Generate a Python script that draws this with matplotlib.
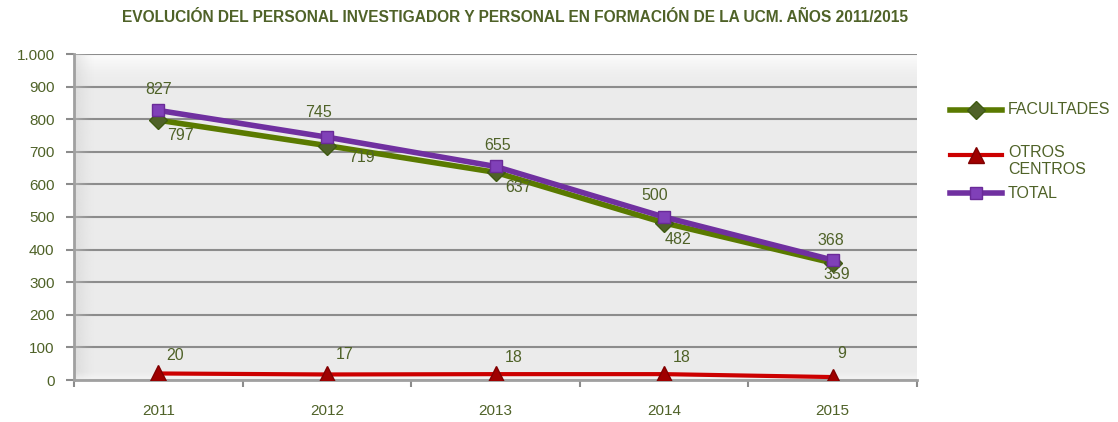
import matplotlib.pyplot as plt
import numpy as np
from matplotlib.lines import Line2D

years = ["2011", "2012", "2013", "2014", "2015"]
facultades = [797, 719, 637, 482, 359]
otros = [20, 17, 18, 18, 9]
total = [827, 745, 655, 500, 368]
yticks = [0, 100, 200, 300, 400, 500, 600, 700, 800, 900, 1000]
ytick_labels = ["0", "100", "200", "300", "400", "500", "600", "700", "800", "900", "1.000"]
series_names = ["FACULTADES", "OTROS\nCENTROS", "TOTAL"]

# label offsets (pixels, label centre relative to point; y up)
off_fac = [(22, -15), (35, -12), (23, -15), (14, -17), (4, -12)]
off_tot = [(0, 21), (-8, 25), (2, 21), (-9, 22), (-2, 20)]
off_otr = [(17, 18), (18, 20), (18, 17), (18, 17), (9, 24)]

plt.rcParams['font.family'] = ['Liberation Sans', 'DejaVu Sans']
txt = "#4F6228"
W, H = 1118, 422

fig = plt.figure(figsize=(W/100, H/100), dpi=100)
ax = fig.add_axes([74/W, 1-380/H, (917-74)/W, (380-54)/H])
x = np.arange(len(years))

# background wall
ax.set_facecolor("#EBEBEB")
grad = np.linspace(1, 0, 100).reshape(-1, 1)
ax.imshow(np.dstack([np.ones((100, 1))]*3 + [grad**2 * 0.95]), extent=[-0.5, 4.5, 880, 1000],
          aspect='auto', zorder=0.5)
gradx = np.linspace(0, 1, 100).reshape(1, -1)
ax.imshow(np.dstack([np.full((1, 100), 0.80)]*3 + [(1-gradx)**1.5 * 0.5]), extent=[-0.5, -0.38, 0, 1000],
          aspect='auto', zorder=0.55)
grady = np.linspace(0, 1, 100).reshape(-1, 1)
ax.imshow(np.dstack([np.ones((100, 1))]*3 + [grady**1.5 * 0.6]), extent=[-0.5, 4.5, 0, 30],
          aspect='auto', zorder=0.55)

ax.set_yticks(yticks)
ax.set_yticklabels(ytick_labels)
ax.grid(axis='y', color="#8C8C8C", linewidth=1.5, zorder=1)
ax.set_axisbelow(True)
ax.set_xticks(x)
ax.set_xticklabels(years)
ax.set_xticks(np.arange(-0.5, 5, 1), minor=True)
ax.tick_params(axis='x', which='major', length=0, pad=17, labelsize=11, labelcolor=txt)
ax.tick_params(axis='x', which='minor', length=5, color="#8C8C8C", width=1.5)
ax.tick_params(axis='y', length=6, color="#8C8C8C", width=1.5, labelsize=11, labelcolor=txt, pad=8)
for s in ["top", "right"]:
    ax.spines[s].set_visible(False)
ax.spines["left"].set_color("#A0A0A0")
ax.spines["left"].set_linewidth(2)
ax.spines["bottom"].set_color("#A0A0A0")
ax.spines["bottom"].set_linewidth(2)
ax.set_xlim(-0.5, 4.5)
ax.set_ylim(0, 1000)

styles = [
    dict(color="#5A7A00", linewidth=4, marker="D", markersize=9,
         markerfacecolor="#4F6228", markeredgecolor="#3E5A10"),
    dict(color="#CC0000", linewidth=3, marker="^", markersize=12,
         markerfacecolor="#A00000", markeredgecolor="#800000"),
    dict(color="#7030A0", linewidth=4, marker="s", markersize=9,
         markerfacecolor="#8040B8", markeredgecolor="#6A2A98"),
]
ax.plot(x, facultades, zorder=3, **styles[0])
ax.plot(x, otros, zorder=3, **styles[1])
ax.plot(x, total, zorder=4, **styles[2])

for vals, offs in ((total, off_tot), (facultades, off_fac), (otros, off_otr)):
    for xi, v, (dx, dy) in zip(x, vals, offs):
        ax.annotate(str(v), (xi, v), xytext=(dx, dy), textcoords="offset pixels", ha="center",
                    va="center", color=txt, fontsize=11.5, zorder=5)

fig.text(515/W, 1-17/H, "EVOLUCIÓN DEL PERSONAL INVESTIGADOR Y PERSONAL EN FORMACIÓN DE LA UCM. AÑOS 2011/2015",
         ha="center", va="center", fontsize=11.2, fontweight="bold", color=txt)

# legend drawn manually
leg_y = [110, 155, 193]
text_y = [110, 161, 193]
for st, ly, ty, name in zip(styles, leg_y, text_y, series_names):
    fy = 1 - ly/H
    fig.add_artist(Line2D([950/W, 1002/W], [fy, fy], color=st["color"], linewidth=st["linewidth"]))
    fig.add_artist(Line2D([976/W], [fy], linestyle="none", marker=st["marker"],
                          markersize=st["markersize"], markerfacecolor=st["markerfacecolor"],
                          markeredgecolor=st["markeredgecolor"]))
    fig.text(1008/W, 1-ty/H, name, ha="left", va="center", fontsize=11.5, color=txt,
             linespacing=1.1)

fig.savefig("out.png", dpi=100)
